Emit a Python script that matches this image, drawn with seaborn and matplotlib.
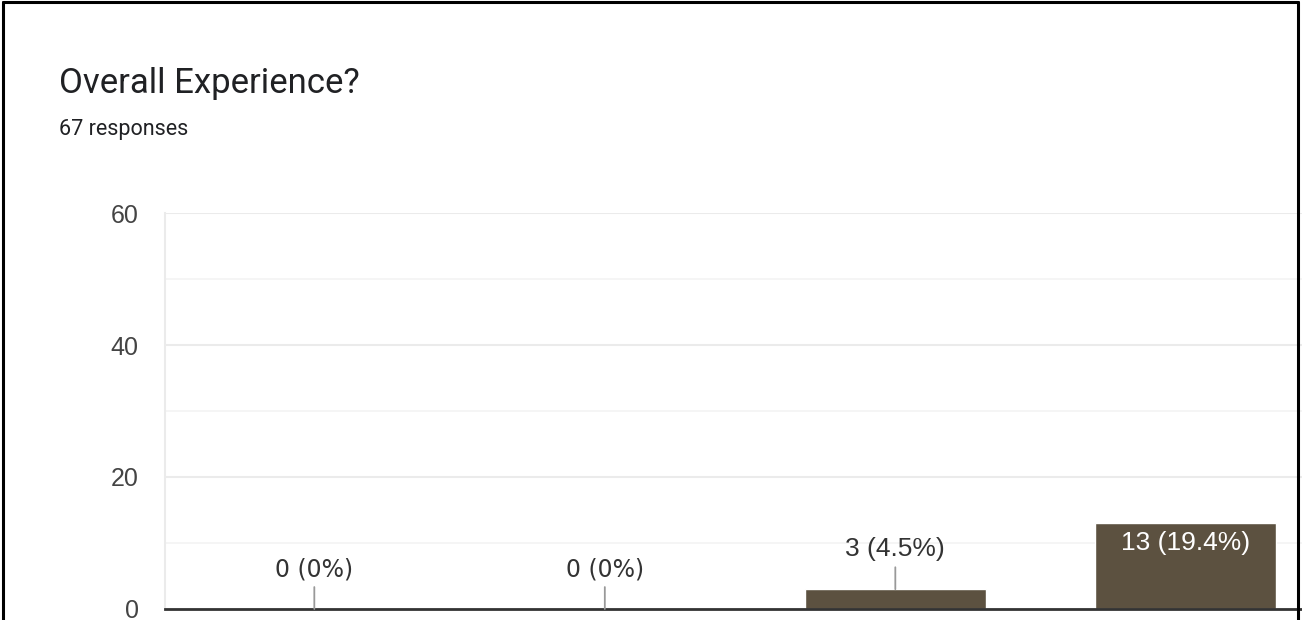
import matplotlib
matplotlib.use("Agg")
import matplotlib.pyplot as plt
from matplotlib.lines import Line2D
import seaborn as sns

# data (Google Forms linear scale; only the first four bars are in view)
categories = ["1", "2", "3", "4"]
counts = [0, 0, 3, 13]
total = 67
title = "Overall Experience?"
subtitle = "67 responses"
y_ticks = [0, 20, 40, 60]
y_minor = [10, 30, 50]

W, H = 1302, 620
bar_color = "#5c5140"
step = 290.5  # px per category

sns.set_style("white")
plt.rcParams["font.family"] = ["Liberation Sans", "DejaVu Sans"]

fig = plt.figure(figsize=(W / 100, H / 100), dpi=100)

# plot area: left 165px, baseline at 609px, top (60) at 213px; runs past the right edge
ax = fig.add_axes([165 / W, (H - 609) / H, 5 * step / W, (609 - 213) / H])

sns.barplot(x=categories, y=counts, color=bar_color, saturation=1,
            width=181 / step, ax=ax, zorder=3)

ax.set_xlim(-0.514, 4.486)
ax.set_ylim(0, 60)
ax.set_yticks(y_ticks)
ax.set_yticks(y_minor, minor=True)
ax.set_yticklabels([str(t) for t in y_ticks], fontsize=18, color="#444444")
ax.set_xticks([])
ax.tick_params(axis="y", which="both", length=0, pad=19)
ax.set_xlabel("")
ax.set_ylabel("")

ax.grid(axis="y", which="major", color="#ebebeb", lw=1.5, zorder=0)
ax.grid(axis="y", which="minor", color="#f4f4f4", lw=1.3, zorder=0)
for s in ["top", "right"]:
    ax.spines[s].set_visible(False)
ax.spines["left"].set_color("#ebebeb")
ax.spines["left"].set_linewidth(1.5)
ax.spines["bottom"].set_color("#333333")
ax.spines["bottom"].set_linewidth(2)
ax.spines["bottom"].set_zorder(5)

# value labels
for i, c in enumerate(counts):
    pct = c / total * 100
    if c >= 10:
        ax.annotate(f"{c} ({pct:.1f}%)", (i, c), xytext=(0, -8),
                    textcoords="offset pixels", ha="center", va="top",
                    fontsize=19, color="white", zorder=6)
    elif c > 0:
        ax.annotate(f"{c} ({pct:.1f}%)", (i, c), xytext=(0, 28),
                    textcoords="offset pixels", ha="center", va="bottom",
                    fontsize=19, color="#333333", zorder=6,
                    arrowprops=dict(arrowstyle="-", color="#999999", lw=1.3,
                                    shrinkA=2, shrinkB=0))
    else:
        ax.annotate(f"{c} (0%)", (i, c), xytext=(0, 28),
                    textcoords="offset pixels", ha="center", va="bottom",
                    fontsize=17, color="#333333", zorder=6,
                    family=["DejaVu Sans"],
                    arrowprops=dict(arrowstyle="-", color="#999999", lw=1.3,
                                    shrinkA=2, shrinkB=0))

# header texts
fig.text(59 / W, 1 - 93 / H, title, fontsize=25, color="#202124",
         family=["Roboto", "DejaVu Sans"], va="baseline")
fig.text(59 / W, 1 - 135 / H, subtitle, fontsize=15.5, color="#202124",
         family=["Roboto", "DejaVu Sans"], va="baseline")

# screenshot frame (left, top, right)
fr = dict(color="black", lw=2.2, transform=fig.transFigure)
fig.add_artist(Line2D([2.5 / W, 2.5 / W], [0, 1 - 2 / H], **fr))
fig.add_artist(Line2D([2.5 / W, 1 - 4 / W], [1 - 2 / H, 1 - 2 / H], **fr))
fig.add_artist(Line2D([1 - 4 / W, 1 - 4 / W], [0, 1 - 2 / H], **fr))

fig.savefig("out.png", dpi=100)
